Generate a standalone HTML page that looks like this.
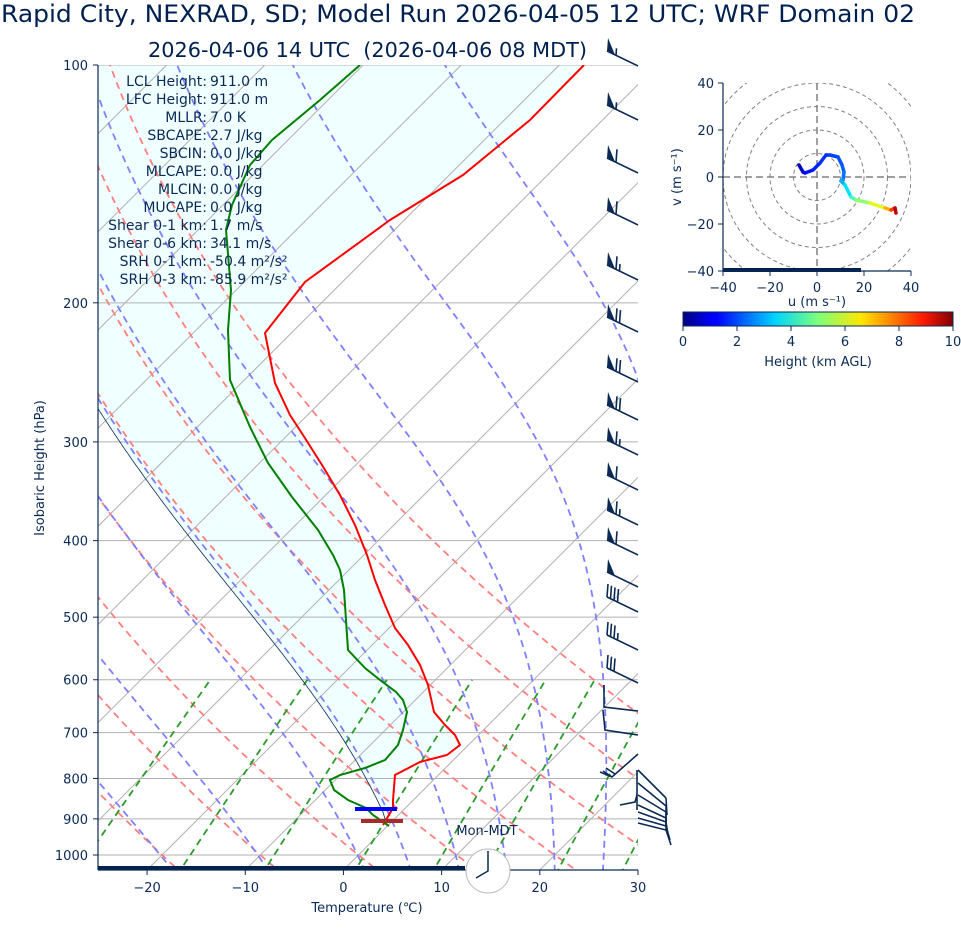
<!DOCTYPE html>
<html><head><meta charset="utf-8"><style>
html,body{margin:0;padding:0;background:#fff;}
svg{display:block;font-family:"DejaVu Sans","Liberation Sans",sans-serif;}
</style></head><body>
<svg id="s" width="961" height="936" viewBox="0 0 961 936" xmlns="http://www.w3.org/2000/svg">
<defs><clipPath id="c"><rect x="98" y="65" width="540" height="805"/></clipPath>
<clipPath id="hc"><rect x="723" y="83" width="188" height="188"/></clipPath>
<linearGradient id="jet" x1="0" x2="1" y1="0" y2="0">
<stop offset="0" stop-color="#00007f"/><stop offset="0.11" stop-color="#0000ff"/><stop offset="0.125" stop-color="#0000ff"/>
<stop offset="0.34" stop-color="#00d4ff"/><stop offset="0.5" stop-color="#7dff7a"/><stop offset="0.66" stop-color="#ffe600"/>
<stop offset="0.89" stop-color="#ff1a00"/><stop offset="1" stop-color="#7f0000"/></linearGradient></defs>
<g id="bg" clip-path="url(#c)"></g>
<g id="fg"></g>
</svg>
<script>
const NS="http://www.w3.org/2000/svg";
const bg=document.getElementById('bg'), fg=document.getElementById('fg');
function el(p,tag,a,txt){const e=document.createElementNS(NS,tag);for(const k in a)e.setAttribute(k,a[k]);if(txt!=null)e.textContent=txt;p.appendChild(e);return e;}
const YB=870;
function Y(p){return 65+790*Math.log10(p/100);}
function X(T,p){return 98+(T+25)*9.818+(YB-Y(p));}
function pl(g,pts,st){el(g,'polyline',Object.assign({points:pts.map(q=>q[0].toFixed(1)+','+q[1].toFixed(1)).join(' '),fill:'none'},st));}
const Rd=287.04,Cp=1005.7,Lv=2.501e6,eps=0.622;
function es(t){return 6.112*Math.exp(17.67*t/(t+243.5));}
function moist(T0,p0,p1){let pts=[],T=T0+273.15,p=p0,dp=(p1<p0?-2:2);
 while((dp<0&&p>=p1)||(dp>0&&p<=p1)){pts.push([X(T-273.15,p),Y(p)]);
 const e=es(T-273.15),rs=eps*e/(p-e);const d=((Rd*T+Lv*rs)/(Cp+Lv*Lv*rs*eps/(Rd*T*T)))/p;T+=d*dp;p+=dp;}return pts;}
const red=[[383,825],[393,808],[393,800],[395,775],[420,762],[447,755],[460,745],[455,735],[445,725],[434,712],[428,685],[420,665],[408,645],[395,628],[385,605],[375,580],[367,555],[355,525],[340,495],[322,465],[303,435],[290,415],[275,383],[265,333],[305,282],[390,220],[463,175],[530,120],[584,65]];
const green=[[389,826],[373,815],[366,808],[348,800],[334,790],[330,780],[340,775],[365,768],[385,760],[398,745],[403,730],[407,712],[403,700],[396,692],[380,680],[365,668],[348,650],[346,620],[344,590],[340,570],[333,555],[318,530],[292,497],[268,463],[250,427],[230,380],[228,330],[231,290],[226,230],[232,205],[250,165],[272,140],[320,100],[360,65]];
let parcel=[[386,822]].concat(moist(-1.9,882,100));
let poly=[[393,808]].concat(parcel.slice(1)).concat([[98,65]]).concat(red.slice().reverse().slice(0,-2));
el(bg,'polygon',{points:poly.map(q=>q.join(',')).join(' '),fill:'#f0ffff'});
for(let p=100;p<=1000;p+=100)el(bg,'line',{x1:98,x2:638,y1:Y(p),y2:Y(p),stroke:'#b0b0b0','stroke-width':1});
for(let T=-120;T<=40;T+=10){const x=98+(T+25)*9.818;el(bg,'line',{x1:x,y1:YB,x2:x+805,y2:65,stroke:'#b0b0b0','stroke-width':1});}
for(let t0=-40;t0<=50;t0+=10){let pts=[];for(let p=1060;p>=95;p-=5){const T=(t0+273.15)*Math.pow(p/1000,0.2857)-273.15;pts.push([X(T,p),Y(p)]);}pl(bg,pts,{stroke:'#ff7f7f','stroke-width':1.8,'stroke-dasharray':'7,5'});}
const mt=[-37,-27,-17.1,-7.4,2.4,7.1,12.0,16.8,21.7,26.6,31.5,36.4];
for(const t0 of mt){let a=moist(t0,1050,100);pl(bg,a,{stroke:'#7f7fff','stroke-width':1.8,'stroke-dasharray':'7,5'});}
for(const w of [0.0004,0.001,0.002,0.004,0.007,0.01,0.016,0.024,0.032]){let pts=[];for(let p=1060;p>=600;p-=10){const e=p*w/(eps+w),l=Math.log(e/6.112);const Td=243.5*l/(17.67-l);pts.push([X(Td,p),Y(p)]);}pl(bg,pts,{stroke:'#2a9a2a','stroke-width':1.8,'stroke-dasharray':'7,5'});}
pl(bg,parcel,{stroke:'#0a2a55','stroke-width':0.8});
pl(bg,red,{stroke:'#ff0000','stroke-width':2});
pl(bg,green,{stroke:'#008000','stroke-width':2});
el(bg,'line',{x1:355,x2:397,y1:809,y2:809,stroke:'#0000ff','stroke-width':4});
el(bg,'line',{x1:361,x2:403,y1:821,y2:821,stroke:'#a52a2a','stroke-width':4});
el(bg,'rect',{x:98,y:866,width:367,height:6,fill:'#002050'});
const N='#0a2a55';
el(fg,'line',{x1:98,x2:98,y1:65,y2:870,stroke:N,'stroke-width':1.2});
el(fg,'line',{x1:98,x2:638,y1:870,y2:870,stroke:N,'stroke-width':1.2});
for(let p=100;p<=1000;p+=100){el(fg,'line',{x1:93,x2:98,y1:Y(p),y2:Y(p),stroke:N});el(fg,'text',{x:88,y:Y(p)+5,'text-anchor':'end','font-size':13,fill:N},p);}
for(let T=-20;T<=30;T+=10){const x=98+(T+25)*9.818;el(fg,'line',{x1:x,x2:x,y1:870,y2:875,stroke:N});el(fg,'text',{x:x,y:892,'text-anchor':'middle','font-size':13,fill:N},T<0?'\u2212'+(-T):T);}
el(fg,'text',{x:367,y:912,'text-anchor':'middle','font-size':13,fill:N},'Temperature (\u2103)');
el(fg,'text',{x:44,y:468,'text-anchor':'middle','font-size':13,fill:N,transform:'rotate(-90 44 468)'},'Isobaric Height (hPa)');
el(fg,'text',{x:1,y:22,'font-size':24,fill:'#002050',textLength:914,lengthAdjust:'spacingAndGlyphs'},'Rapid City, NEXRAD, SD; Model Run 2026-04-05 12 UTC; WRF Domain 02');
el(fg,'text',{x:148,y:57,'font-size':20,fill:'#002050',textLength:439,lengthAdjust:'spacingAndGlyphs'},'2026-04-06 14 UTC \u00a0(2026-04-06 08 MDT)');
const st=[['LCL Height:','911.0 m'],['LFC Height:','911.0 m'],['MLLR:','7.0 K'],['SBCAPE:','2.7 J/kg'],['SBCIN:','0.0 J/kg'],['MLCAPE:','0.0 J/kg'],['MLCIN:','0.0 J/kg'],['MUCAPE:','0.0 J/kg'],['Shear 0-1 km:','1.7 m/s'],['Shear 0-6 km:','34.1 m/s'],['SRH 0-1 km:','-50.4 m\u00b2/s\u00b2'],['SRH 0-3 km:','-85.9 m\u00b2/s\u00b2']];
st.forEach((s,i)=>{const y=86+18*i;el(fg,'text',{x:207,y:y,'text-anchor':'end','font-size':14,fill:N},s[0]);el(fg,'text',{x:210,y:y,'font-size':14,fill:N},s[1]);});
el(fg,'text',{x:487,y:835,'text-anchor':'middle','font-size':13,fill:N},'Mon-MDT');
el(fg,'circle',{cx:488,cy:871,r:22,fill:'#fff',stroke:'#bbb'});
el(fg,'polyline',{points:'488,851 488,871 476,878',fill:'none',stroke:N,'stroke-width':1.5});
function barb(yr,n,full,half){const R=[638,yr],L=[607,yr-15];const g=fg;
 el(g,'line',{x1:R[0],y1:R[1],x2:L[0],y2:L[1],stroke:N,'stroke-width':1.6});
 let pos=0;const dx=(R[0]-L[0])/31,dy=(R[1]-L[1])/31;
 for(let i=0;i<n;i++){const a=[L[0]+dx*pos,L[1]+dy*pos],b=[L[0]+dx*(pos+8),L[1]+dy*(pos+8)];el(g,'polygon',{points:`${a[0]},${a[1]} ${b[0]},${b[1]} ${a[0]+1},${a[1]-13}`,fill:N});pos+=9;}
 for(let i=0;i<full;i++){const a=[L[0]+dx*pos,L[1]+dy*pos];el(g,'line',{x1:a[0],y1:a[1],x2:a[0]+1,y2:a[1]-13,stroke:N,'stroke-width':1.6});pos+=3.5;}
 for(let i=0;i<half;i++){const a=[L[0]+dx*pos,L[1]+dy*pos];el(g,'line',{x1:a[0],y1:a[1],x2:a[0]+0.5,y2:a[1]-7,stroke:N,'stroke-width':1.6});pos+=3.5;}}
[[66,1,0,1],[120,1,0,1],[173,1,1,0],[225,1,1,0],[280,1,1,1],[332,1,2,0],[382,1,2,0],[420,1,2,0],[455,1,1,1],[490,1,1,0],[525,1,1,1],[555,1,1,0],[587,1,0,0]].forEach(b=>barb(...b));
function full(yr,n,h){const L=[607,yr-15],R=[638,yr];el(fg,'line',{x1:R[0],y1:R[1],x2:L[0],y2:L[1],stroke:N,'stroke-width':1.6});
 for(let i=0;i<n;i++){const x=L[0]+i*3.5,y=L[1]+i*1.7;el(fg,'line',{x1:x,y1:y,x2:x+1,y2:y-13,stroke:N,'stroke-width':1.6});}
 if(h){const x=L[0]+n*3.5,y=L[1]+n*1.7;el(fg,'line',{x1:x,y1:y,x2:x+0.5,y2:y-7,stroke:N,'stroke-width':1.6});}}
full(612,4,0);full(650,3,1);full(683,3,0);
el(fg,'polyline',{points:'604,685 604,707 638,711',fill:'none',stroke:N,'stroke-width':1.6});
el(fg,'polyline',{points:'603,710 605,730 638,735',fill:'none',stroke:N,'stroke-width':1.6});
el(fg,'polyline',{points:'638,754 612,777 600,772',fill:'none',stroke:N,'stroke-width':1.6});
el(fg,'line',{x1:612,y1:777,x2:603,y2:771,stroke:N,'stroke-width':1.6});el(fg,'line',{x1:615,y1:774,x2:606,y2:768,stroke:N,'stroke-width':1.6});
[[770,798,667,815],[783,806,666,822],[795,812,666,826],[805,818,666,830],[812,822,668,835],[818,826,670,840],[823,830,671,845]].forEach(a=>{el(fg,'line',{x1:638,y1:a[0],x2:666,y2:a[1],stroke:N,'stroke-width':1.6});el(fg,'line',{x1:666,y1:a[1],x2:a[2],y2:a[3],stroke:N,'stroke-width':1.6});});
el(fg,'line',{x1:637,y1:770,x2:637,y2:810,stroke:N,'stroke-width':1.6});
el(fg,'polyline',{points:'620,805 635,802 637,795',fill:'none',stroke:N,'stroke-width':1.6});
const hx=u=>817+u*2.35,hy=v=>177-v*2.35;const H=el(fg,'g',{'clip-path':'url(#hc)'});
for(const r of [10,20,30,40,50])el(H,'circle',{cx:817,cy:177,r:r*2.35,fill:'none',stroke:'#808080','stroke-dasharray':'4,3','stroke-width':1});
el(H,'line',{x1:723,x2:911,y1:177,y2:177,stroke:'#808080','stroke-width':1.5,'stroke-dasharray':'7,4'});
el(H,'line',{y1:83,y2:271,x1:817,x2:817,stroke:'#808080','stroke-width':1.5,'stroke-dasharray':'7,4'});
const hp=[[799,165,'#00008f'],[803,172,'#0000c0'],[805,173,'#0000d0'],[813,170,'#0010ff'],[820,163,'#0020ff'],[826,155,'#0030ff'],[830,155,'#0030ff'],[838,157,'#0040ff'],[842,165,'#0050ff'],[844,172,'#0060ff'],[843,180,'#0070ff'],[841,181,'#0090ff'],[845,185,'#00b0ff'],[851,197,'#00e0ff'],[856,200,'#40ffc0'],[870,203,'#90ff70'],[885,208,'#e0ff20'],[891,210,'#ffb000'],[895,208,'#ff4000'],[896,213,'#c00000']];
for(let i=1;i<hp.length;i++)el(H,'line',{x1:hp[i-1][0],y1:hp[i-1][1],x2:hp[i][0],y2:hp[i][1],stroke:hp[i][2],'stroke-width':3.5,'stroke-linecap':'round'});
el(fg,'rect',{x:723,y:268,width:138,height:4,fill:'#002050'});
el(fg,'line',{x1:723,x2:723,y1:83,y2:271,stroke:N,'stroke-width':1.2});el(fg,'line',{x1:723,x2:911,y1:271,y2:271,stroke:N,'stroke-width':1.2});
for(const v of [-40,-20,0,20,40]){const t=v<0?'\u2212'+(-v):v;el(fg,'line',{x1:718,x2:723,y1:hy(v),y2:hy(v),stroke:N});el(fg,'text',{x:714,y:hy(v)+5,'text-anchor':'end','font-size':13,fill:N},t);
 el(fg,'line',{y1:271,y2:276,x1:hx(v),x2:hx(v),stroke:N});el(fg,'text',{x:hx(v),y:292,'text-anchor':'middle','font-size':13,fill:N},t);}
el(fg,'text',{x:817,y:306,'text-anchor':'middle','font-size':13,fill:N},'u (m s\u207B\u00B9)');
el(fg,'text',{x:681,y:177,'text-anchor':'middle','font-size':13,fill:N,transform:'rotate(-90 681 177)'},'v (m s\u207B\u00B9)');
el(fg,'rect',{x:683,y:312,width:270,height:14,fill:'url(#jet)',stroke:N,'stroke-width':1});
for(let i=0;i<=10;i+=2){const x=683+i*27;el(fg,'line',{x1:x,x2:x,y1:326,y2:331,stroke:N});el(fg,'text',{x:x,y:346,'text-anchor':'middle','font-size':13,fill:N},i);}
el(fg,'text',{x:818,y:366,'text-anchor':'middle','font-size':13,fill:N},'Height (km AGL)');
</script>
</body></html>
